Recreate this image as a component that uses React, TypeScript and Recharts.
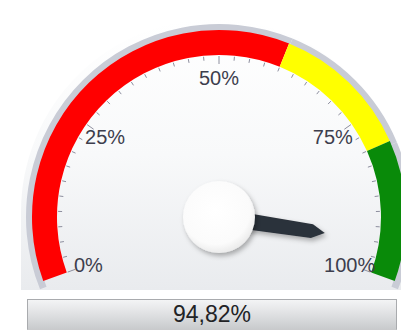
import React from 'react';
import { PieChart, Pie, Cell } from 'recharts';

// gauge geometry
const CX = 214;
const CY = 212;
const START_ANGLE = 200;
const END_ANGLE = -20;
const BAND_INNER = 162;
const BAND_OUTER = 187;

// colour ranges of the dial (percent)
const bandData = [
  { name: 'kritisch', value: 60, color: '#ff0000' },
  { name: 'Warnung', value: 20, color: '#ffff00' },
  { name: 'ok', value: 20, color: '#098a09' },
];

const gaugeValue = 94.82;
const gaugeMax = 100;
const needleData = [
  { name: 'Wert', value: gaugeValue },
  { name: 'Rest', value: gaugeMax - gaugeValue },
];

const labelTicks = [0, 25, 50, 75, 100];
const scaleTicks = [
  0, 2.5, 5, 7.5, 10, 12.5, 15, 17.5, 20, 22.5, 25, 27.5, 30, 32.5, 35, 37.5, 40, 42.5, 45, 47.5, 50,
  52.5, 55, 57.5, 60, 62.5, 65, 67.5, 70, 72.5, 75, 77.5, 80, 82.5, 85, 87.5, 90, 92.5, 95, 97.5, 100,
];

// one invisible sector per scale step; its edges carry the tick marks
const scaleSteps = scaleTicks.slice(1).map((t, i) => ({
  from: scaleTicks[i],
  to: t,
  value: t - scaleTicks[i],
}));

const RAD = Math.PI / 180;
const polar = (cx: number, cy: number, r: number, angle: number) => ({
  x: cx + r * Math.cos(-angle * RAD),
  y: cy + r * Math.sin(-angle * RAD),
});

const fmt = (v: number) => v.toFixed(2).replace('.', ',') + '%';

const tickMark = (cx: number, cy: number, angle: number, value: number, key: string) => {
  const major = labelTicks.includes(value);
  const a = polar(cx, cy, BAND_INNER - 1, angle);
  const b = polar(cx, cy, major ? BAND_INNER - 9 : BAND_INNER - 5, angle);
  const t = polar(cx, cy, 139, angle);
  return (
    <g key={key}>
      <line x1={a.x} y1={a.y} x2={b.x} y2={b.y} stroke="#8d8e9e" strokeWidth={1} />
      {major && (
        <text
          x={t.x}
          y={t.y}
          textAnchor="middle"
          dominantBaseline="central"
          fontSize={20}
          fontFamily="Arial, 'Liberation Sans', sans-serif"
          fill="#3d3e4d"
        >
          {value}%
        </text>
      )}
    </g>
  );
};

const renderScale = (props: any) => {
  const { cx, cy, startAngle, endAngle, index } = props;
  const step = scaleSteps[index];
  return (
    <g>
      {tickMark(cx, cy, startAngle, step.from, 's')}
      {index === scaleSteps.length - 1 && tickMark(cx, cy, endAngle, step.to, 'e')}
    </g>
  );
};

// needle + hub, drawn at the end angle of the value sector
const renderNeedle = (props: any) => {
  if (props.index !== 0) return <g />;
  const { cx, cy, endAngle } = props;
  const ux = Math.cos(-endAngle * RAD);
  const uy = Math.sin(-endAngle * RAD);
  const nx = -uy;
  const ny = ux;
  const pt = (r: number, w: number) => `${cx + ux * r + nx * w},${cy + uy * r + ny * w}`;
  const points = [pt(0, 8.5), pt(94, 7), pt(107, 0), pt(94, -7), pt(0, -8.5)].join(' ');
  return (
    <g>
      <polygon points={points} fill="#2c323b" filter="url(#gaugeShadow)" />
      <circle cx={cx} cy={cy} r={36} fill="url(#hubFill)" filter="url(#gaugeShadow)" />
    </g>
  );
};

export default function App() {
  return (
    <div
      style={{
        position: 'fixed',
        left: 0,
        top: 0,
        width: 401,
        height: 334,
        overflow: 'hidden',
        background: '#ffffff',
      }}
    >
      <svg width={0} height={0} style={{ position: 'absolute' }}>
        <defs>
          <filter id="gaugeShadow" x="-50%" y="-50%" width="200%" height="200%">
            <feDropShadow dx={2} dy={3} stdDeviation={2.5} floodColor="#000" floodOpacity={0.3} />
          </filter>
          <radialGradient id="hubFill" cx="45%" cy="40%" r="60%">
            <stop offset="0%" stopColor="#ffffff" />
            <stop offset="80%" stopColor="#fbfbfb" />
            <stop offset="100%" stopColor="#ececec" />
          </radialGradient>
        </defs>
      </svg>

      {/* dial face */}
      <div
        style={{
          position: 'absolute',
          left: CX - 193,
          top: CY - 193,
          width: 386,
          height: 290 - (CY - 193),
          borderRadius: '193px 193px 0 0 / 193px 193px 0 0',
          background: 'linear-gradient(to bottom, #ffffff 0%, #f8f9fa 50%, #e9ebee 100%)',
        }}
      />

      <div style={{ position: 'absolute', left: 0, top: 0 }}>
        <PieChart width={401} height={334}>
          {/* outer rim */}
          <Pie
            data={bandData}
            dataKey="value"
            cx={CX}
            cy={CY}
            startAngle={START_ANGLE + 2}
            endAngle={END_ANGLE - 2}
            innerRadius={BAND_OUTER - 1}
            outerRadius={BAND_OUTER + 6}
            fill="#c9ccd6"
            stroke="none"
            isAnimationActive={false}
          />
          {/* colour bands */}
          <Pie
            data={bandData}
            dataKey="value"
            cx={CX}
            cy={CY}
            startAngle={START_ANGLE}
            endAngle={END_ANGLE}
            innerRadius={BAND_INNER}
            outerRadius={BAND_OUTER}
            stroke="none"
            isAnimationActive={false}
          >
            {bandData.map((d) => (
              <Cell key={d.name} fill={d.color} />
            ))}
          </Pie>
          {/* scale ticks and labels */}
          <Pie
            data={scaleSteps}
            dataKey="value"
            cx={CX}
            cy={CY}
            startAngle={START_ANGLE}
            endAngle={END_ANGLE}
            innerRadius={BAND_INNER - 1}
            outerRadius={BAND_INNER}
            fill="none"
            stroke="none"
            label={renderScale}
            labelLine={false}
            isAnimationActive={false}
          />
          {/* needle */}
          <Pie
            data={needleData}
            dataKey="value"
            cx={CX}
            cy={CY}
            startAngle={START_ANGLE}
            endAngle={END_ANGLE}
            innerRadius={0}
            outerRadius={100}
            fill="none"
            stroke="none"
            label={renderNeedle}
            labelLine={false}
            isAnimationActive={false}
          />
        </PieChart>
      </div>

      {/* value display */}
      <div
        style={{
          position: 'absolute',
          left: 27,
          top: 299,
          width: 368,
          height: 29,
          border: '1px solid #a9abae',
          borderBottomColor: '#c9cacc',
          background: 'linear-gradient(to bottom, #f3f4f5 0%, #e1e2e4 45%, #c9cbcd 100%)',
          fontFamily: "Arial, 'Liberation Sans', sans-serif",
          fontSize: 23,
          lineHeight: '29px',
          textAlign: 'center',
          color: '#222326',
        }}
      >
        {fmt(gaugeValue)}
      </div>
    </div>
  );
}
